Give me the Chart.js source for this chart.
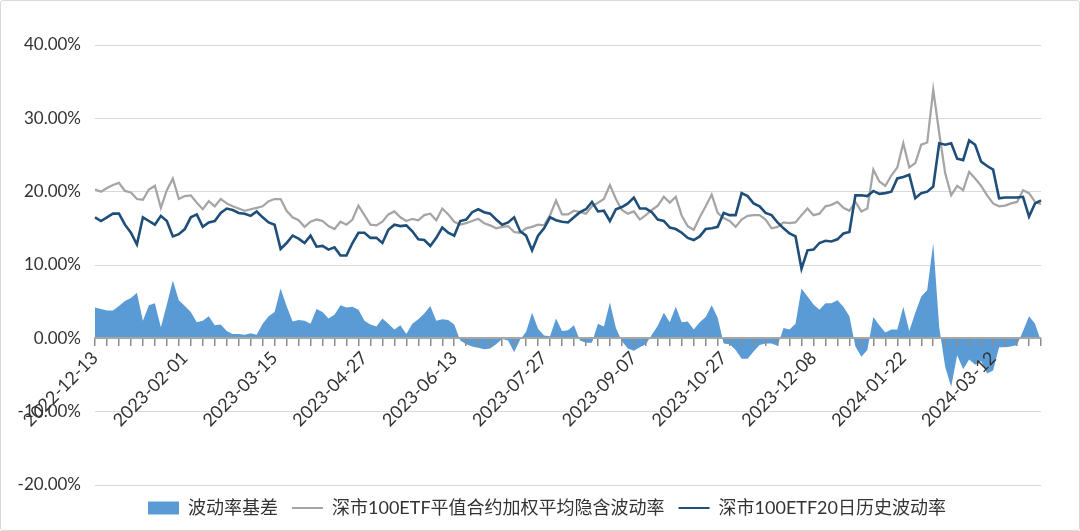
<!DOCTYPE html>
<html>
<head>
<meta charset="utf-8">
<script src="https://cdn.jsdelivr.net/npm/chart.js@4.4.1/dist/chart.umd.min.js"></script>
<style>
    html, body { margin: 0; padding: 0; background: #fff; }
    #box { width: 1080px; height: 531px; box-sizing: border-box; border: 1px solid #d9d9d9; border-radius: 3px; }
    canvas { display: block; }
</style>
</head>
<body>
<div id="box"><canvas id="grafico" width="1078" height="529"></canvas></div>
<script>
// giorni di chiusura della borsa (Shenzhen) nel periodo
const holidays = [
    "2023-01-02", "2023-01-23", "2023-01-24", "2023-01-25", "2023-01-26", "2023-01-27",
    "2023-04-05", "2023-05-01", "2023-05-02", "2023-05-03", "2023-06-22", "2023-06-23",
    "2023-09-29", "2023-10-02", "2023-10-03", "2023-10-04", "2023-10-05", "2023-10-06",
    "2024-01-01", "2024-02-09", "2024-02-12", "2024-02-13", "2024-02-14", "2024-02-15",
    "2024-02-16", "2024-04-04", "2024-04-05"
];

function tradingDays(start, n) {
    const out = [];
    const d = new Date(start + "T00:00:00Z");
    while (out.length < n) {
        const s = d.toISOString().slice(0, 10);
        const wd = d.getUTCDay();
        if (wd !== 0 && wd !== 6 && !holidays.includes(s)) out.push(s);
        d.setUTCDate(d.getUTCDate() + 1);
    }
    return out;
}

// un punto ogni due giorni di borsa
const dates = tradingDays("2022-12-13", 317).filter((_, i) => i % 2 === 0);

const seriesNames = ["波动率基差", "深市100ETF平值合约加权平均隐含波动率", "深市100ETF20日历史波动率"];

// valori in %
const basis = [
    4.2, 4.0, 3.8, 3.8, 4.4, 5.1, 5.5, 6.2, 2.4, 4.5,
    4.8, 1.5, 4.6, 7.9, 5.2, 4.4, 3.6, 2.2, 2.4, 3.0,
    1.8, 1.9, 1.0, 0.6, 0.6, 0.5, 0.7, 0.5, 2.0, 3.0,
    3.6, 6.8, 4.4, 2.3, 2.5, 2.4, 2.0, 4.0, 3.6, 2.7,
    3.2, 4.5, 4.2, 4.3, 3.9, 2.4, 1.9, 1.6, 2.7, 2.0,
    1.2, 1.8, 0.6, 2.0, 2.6, 3.4, 4.4, 2.4, 2.6, 2.5,
    1.9, -0.3, -0.8, -1.1, -1.3, -1.5, -1.4, -0.8, -0.1, -0.3,
    -1.9, -0.2, 0.9, 3.5, 1.3, 0.4, 0.3, 2.7, 1.0, 1.1,
    1.8, -0.3, -0.6, -0.6, 2.0, 1.6, 4.9, 1.4, -0.4, -1.4,
    -1.7, -1.2, -0.8, 0.5, 1.7, 3.5, 2.2, 4.3, 2.2, 2.3,
    1.2, 2.2, 2.9, 4.5, 2.8, -0.7, -0.8, -1.6, -2.8, -2.8,
    -1.8, -0.9, -0.7, -0.7, -1.0, 1.4, 1.2, 2.0, 6.8, 5.7,
    4.6, 3.9, 4.8, 4.8, 5.2, 4.3, 3.0, -1.1, -2.5, -1.6,
    2.9, 1.8, 0.8, 1.2, 1.2, 4.3, 1.0, 3.5, 5.7, 6.6,
    13.0, 1.5, -3.9, -6.6, -2.3, -4.2, -2.9, -3.6, -3.1, -4.8,
    -4.4, -1.2, -1.2, -1.1, -0.9, 1.0, 3.0, 2.0, -0.4
];

const implied = [
    20.3, 20.0, 20.5, 20.9, 21.2, 20.1, 19.9, 19.0, 18.9, 20.3,
    20.8, 17.8, 20.2, 21.8, 19.0, 19.4, 19.5, 18.5, 17.6, 18.7,
    18.0, 19.0, 18.4, 18.0, 17.7, 17.4, 17.6, 17.8, 18.0, 18.7,
    19.0, 19.0, 17.4, 16.5, 16.1, 15.2, 15.9, 16.2, 16.0, 15.3,
    14.9, 15.9, 15.5, 16.2, 18.1, 16.8, 15.5, 15.4, 15.9, 16.9,
    17.3, 16.5, 16.0, 16.3, 16.1, 16.8, 17.0, 16.1, 17.7, 16.9,
    15.9, 15.5, 15.7, 16.0, 16.3, 15.7, 15.4, 15.0, 15.2, 15.3,
    14.5, 14.4, 15.0, 15.2, 15.5, 15.4, 16.8, 18.8, 16.9, 16.9,
    17.4, 17.2, 17.0, 18.0, 18.5, 19.0, 20.9, 19.0, 17.5, 17.0,
    17.3, 16.2, 16.8, 17.5, 18.1, 19.3, 18.5, 19.3, 16.7, 15.3,
    14.8, 16.5, 18.0, 19.6, 17.1, 16.4, 16.0, 15.2, 16.2, 16.7,
    16.8, 16.8, 16.2, 15.0, 15.2, 15.8, 15.7, 15.8, 16.8, 17.7,
    16.8, 17.0, 18.0, 18.2, 18.6, 17.8, 17.4, 18.6, 17.3, 17.7,
    23.0, 21.4, 20.8, 22.2, 23.3, 26.6, 23.3, 23.9, 26.4, 26.7,
    33.9, 28.0, 22.5, 19.5, 20.8, 20.2, 22.7, 21.8, 20.8, 19.5,
    18.4, 18.0, 18.1, 18.4, 18.6, 20.2, 19.8, 18.6, 18.3
];

const historical = [
    16.5, 16.0, 16.5, 17.0, 17.0, 15.5, 14.4, 12.8, 16.5, 16.0,
    15.5, 16.7, 16.0, 13.9, 14.2, 14.9, 16.5, 16.9, 15.2, 15.8,
    16.0, 17.1, 17.7, 17.5, 17.1, 17.0, 16.7, 17.3, 16.5, 15.8,
    15.5, 12.2, 13.0, 14.0, 13.6, 13.0, 14.0, 12.5, 12.6, 12.1,
    12.4, 11.3, 11.3, 13.0, 14.4, 14.4, 13.7, 13.7, 13.0, 14.8,
    15.5, 15.3, 15.4, 14.6, 13.5, 13.4, 12.6, 13.7, 15.1, 14.4,
    14.0, 16.0, 16.2, 17.2, 17.6, 17.2, 17.0, 16.2, 15.5, 15.8,
    16.5, 14.6, 14.0, 12.0, 14.0, 15.0, 16.5, 16.1, 15.9, 15.8,
    16.5, 17.2, 17.6, 18.6, 17.3, 17.4, 16.0, 17.6, 17.9, 18.4,
    19.2, 17.7, 17.7, 17.2, 16.2, 16.0, 15.1, 14.9, 14.4, 13.7,
    13.4, 13.9, 14.9, 15.0, 15.2, 17.1, 16.8, 16.8, 19.8, 19.4,
    18.4, 18.0, 17.1, 16.8, 15.8, 15.0, 14.3, 13.9, 9.5, 12.0,
    12.1, 13.0, 13.3, 13.2, 13.5, 14.3, 14.5, 19.5, 19.5, 19.4,
    20.1, 19.7, 19.8, 20.0, 21.8, 22.0, 22.3, 19.1, 19.8, 20.0,
    20.7, 26.6, 26.4, 26.6, 24.5, 24.3, 27.0, 26.4, 24.1, 23.5,
    23.0, 19.1, 19.2, 19.2, 19.2, 19.3, 16.6, 18.4, 18.8
];

const yTicks = [-20, -10, 0, 10, 20, 30, 40];

const FONT = "Lato, 'Noto Sans CJK SC', sans-serif";
const TXT = "#333333";

// la legenda originale non è centrata sul canvas: la sposto un po' a destra
const shiftLegend = {
    id: "shiftLegend",
    afterLayout(chart) {
        chart.legend.left += 26;
        chart.legend.right += 26;
    }
};

const ctx = document.getElementById("grafico").getContext("2d");

const chart = new Chart(ctx, {
    type: "line",
    data: {
        labels: dates,
        datasets: [
            {
                label: seriesNames[0],
                data: basis,
                fill: "origin",
                backgroundColor: "#5b9bd5",
                borderWidth: 0,
                pointRadius: 0,
                pointStyle: "rect",
                pointBackgroundColor: "#5b9bd5",
                pointBorderWidth: 0,
                tension: 0,
                order: 3
            },
            {
                label: seriesNames[1],
                data: implied,
                borderColor: "#a5a5a5",
                borderWidth: 2.25,
                pointRadius: 0,
                pointStyle: "line",
                pointBorderColor: "#a5a5a5",
                pointBorderWidth: 2,
                tension: 0,
                fill: false,
                order: 2
            },
            {
                label: seriesNames[2],
                data: historical,
                borderColor: "#1f4e79",
                borderWidth: 2.6,
                pointRadius: 0,
                pointStyle: "line",
                pointBorderColor: "#1f4e79",
                pointBorderWidth: 2,
                tension: 0,
                fill: false,
                order: 1
            }
        ]
    },
    plugins: [shiftLegend],
    options: {
        responsive: false,
        animation: false,
        layout: { padding: { left: 0, right: 38, top: 44, bottom: 3 } },
        plugins: {
            tooltip: { enabled: false },
            legend: {
                position: "bottom",
                labels: {
                    usePointStyle: true,
                    pointStyleWidth: 31,
                    boxHeight: 13,
                    padding: 14,
                    color: TXT,
                    font: { family: FONT, size: 18 },
                    sort: (a, b) => a.datasetIndex - b.datasetIndex
                }
            }
        },
        scales: {
            x: {
                type: "category",
                position: { y: 0 },
                offset: false,
                border: { display: true, color: "#a6a6a6", width: 2, z: 1 },
                grid: {
                    display: true,
                    drawOnChartArea: false,
                    drawTicks: true,
                    tickLength: 7,
                    lineWidth: 1.5,
                    z: 1,
                    color: (c) => (c.index % 2 === 0 ? "#8c8c8c" : "rgba(0,0,0,0)")
                },
                ticks: {
                    z: 1,
                    autoSkip: false,
                    minRotation: 45,
                    maxRotation: 45,
                    padding: 2,
                    color: TXT,
                    font: { family: FONT, size: 18 },
                    callback: function (val, index) {
                        return index % 15 === 0 ? this.getLabelForValue(val) : "";
                    }
                }
            },
            y: {
                min: yTicks[0],
                max: yTicks[yTicks.length - 1],
                afterFit: (s) => { s.width = 94; },
                afterBuildTicks: (s) => { s.ticks = yTicks.map((v) => ({ value: v })); },
                border: { display: false },
                grid: { color: "#d9d9d9", lineWidth: 1, drawTicks: false },
                ticks: {
                    padding: 14,
                    color: TXT,
                    font: { family: FONT, size: 17 },
                    callback: (v) => v.toFixed(2) + "%"
                }
            }
        }
    }
});
</script>
</body>
</html>
